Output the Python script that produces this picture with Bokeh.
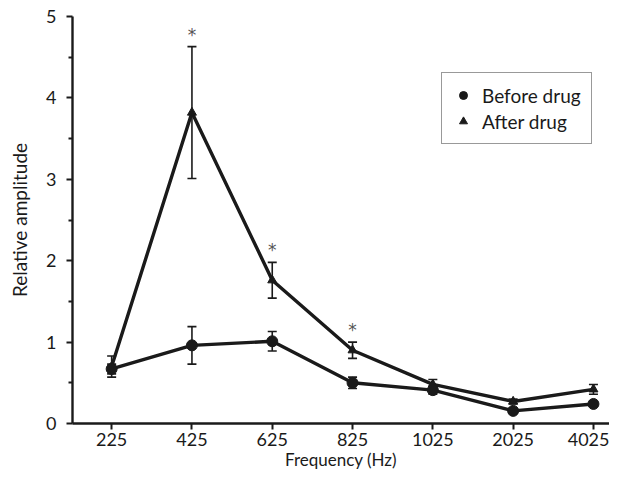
from bokeh.plotting import figure
from bokeh.models import (ColumnDataSource, FixedTicker, Legend, LegendItem, Whisker, Range1d)
from bokeh.core.properties import value
from bokeh.embed import file_html
from bokeh.resources import INLINE

freqs = ["225", "425", "625", "825", "1025", "2025", "4025"]
before = [0.67, 0.96, 1.01, 0.50, 0.41, 0.155, 0.24]
before_err = [0.06, 0.23, 0.12, 0.07, 0.05, 0.03, 0.03]
after = [0.70, 3.82, 1.76, 0.90, 0.48, 0.27, 0.42]
after_err = [0.13, 0.81, 0.22, 0.10, 0.06, 0.03, 0.06]
significant = [False, True, True, True, False, False, False]

FONT = "Lato"
INK = "#1a1a1a"
xs = list(range(len(freqs)))

p = figure(width=609, height=472, output_backend="svg", toolbar_location=None,
           x_range=Range1d(-0.4875, 6.2), y_range=Range1d(0, 5),
           min_border_left=72, min_border_right=0, min_border_top=16, min_border_bottom=48)
p.outline_line_color = None
p.xgrid.visible = False
p.ygrid.visible = False
p.background_fill_color = "white"
p.border_fill_color = "white"

src_b = ColumnDataSource(dict(x=xs, y=before, lo=[v - e for v, e in zip(before, before_err)],
                              hi=[v + e for v, e in zip(before, before_err)]))
src_a = ColumnDataSource(dict(x=xs, y=after, lo=[v - e for v, e in zip(after, after_err)],
                              hi=[v + e for v, e in zip(after, after_err)]))

for src in (src_b, src_a):
    w = Whisker(source=src, base="x", upper="hi", lower="lo", line_color=INK, line_width=1.6)
    w.upper_head.size = 9
    w.lower_head.size = 9
    w.upper_head.line_width = 1.6
    w.lower_head.line_width = 1.6
    w.upper_head.line_color = INK
    w.lower_head.line_color = INK
    p.add_layout(w)

p.line("x", "y", source=src_a, line_color=INK, line_width=3.4)
p.line("x", "y", source=src_b, line_color=INK, line_width=3.4)
ra = p.scatter("x", "y", source=src_a, marker="triangle", size=9, fill_color=INK, line_color=INK)
rb = p.scatter("x", "y", source=src_b, marker="circle", size=11, fill_color=INK, line_color=INK)

star_x = [x for x, s in zip(xs, significant) if s]
star_y = [a + e for a, e, s in zip(after, after_err, significant) if s]
p.text(star_x, star_y, text=["*"] * len(star_x), text_align="center", text_baseline="middle",
       y_offset=-12, text_font=value("DejaVu Sans"), text_font_size="17px", text_color="#555555")

legend = Legend(items=[LegendItem(label="Before drug", renderers=[rb]),
                       LegendItem(label="After drug", renderers=[ra])],
                location=(369, 279))
legend.label_text_font = FONT
legend.label_text_font_size = "19px"
legend.label_text_color = INK
legend.border_line_color = "#333333"
legend.border_line_width = 1
legend.padding = 10
legend.spacing = 2
legend.glyph_width = 22
legend.label_standoff = 8
legend.label_height = 24
legend.margin = 0
p.add_layout(legend)

p.xaxis.ticker = FixedTicker(ticks=xs)
p.xaxis.major_label_overrides = {i: f for i, f in zip(xs, freqs)}
p.yaxis.ticker = FixedTicker(ticks=[0, 1, 2, 3, 4, 5], minor_ticks=[0.5, 1.5, 2.5, 3.5, 4.5])

for ax in (p.xaxis[0], p.yaxis[0]):
    ax.axis_line_width = 2.4
    ax.axis_line_color = INK
    ax.major_tick_line_width = 2
    ax.major_tick_line_color = INK
    ax.major_tick_out = 6
    ax.major_tick_in = 0
    ax.minor_tick_line_width = 2
    ax.minor_tick_line_color = INK
    ax.minor_tick_out = 4
    ax.minor_tick_in = 0
    ax.major_label_text_font = FONT
    ax.major_label_text_font_size = "18px"
    ax.major_label_text_color = INK
    ax.axis_label_text_font = FONT
    ax.axis_label_text_font_size = "18px"
    ax.axis_label_text_font_style = "normal"
    ax.axis_label_text_color = INK

p.xaxis.axis_label_text_font_size = "17px"
p.yaxis.axis_label_text_font_size = "19px"
p.xaxis.minor_tick_line_color = None
p.xaxis.axis_label = "Frequency (Hz)"
p.yaxis.axis_label = "Relative amplitude"
p.xaxis.major_label_standoff = 3
p.yaxis.major_label_standoff = 10
p.xaxis.axis_label_standoff = 0
p.yaxis.axis_label_standoff = 12

open("out.html", "w").write(file_html(p, INLINE))
